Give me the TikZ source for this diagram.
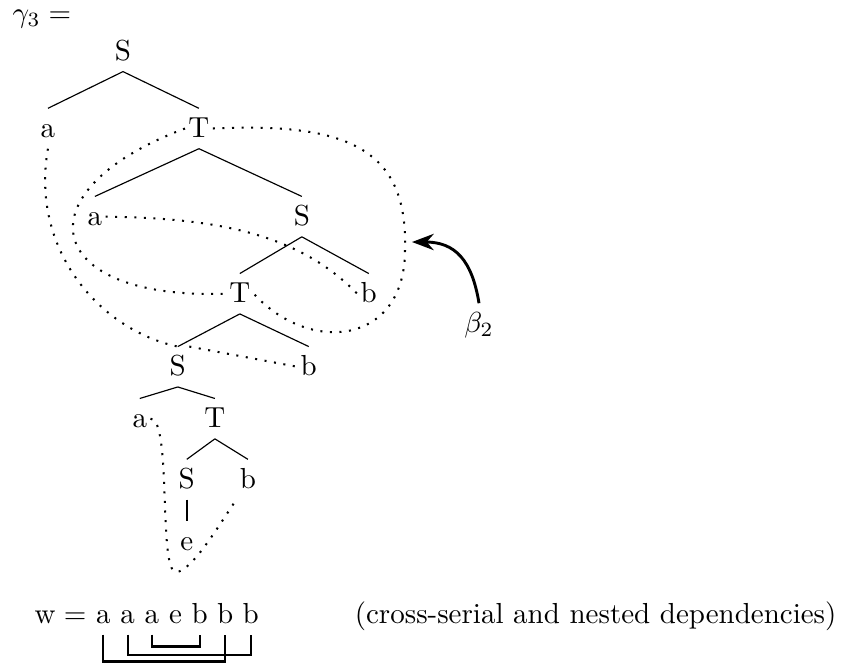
\documentclass[tikz,border=0pt]{standalone}
\usetikzlibrary{
  arrows.meta,
  positioning
}
\tikzset{
  lbl/.style={inner xsep=1pt, inner ysep=2.9pt, text height=6.83pt, text depth=0.9pt},
  link/.style={line width=0.7pt, dash pattern=on 0.7pt off 2.6pt},
  brk/.style={line width=0.75pt},
}

\begin{document}
\begin{tikzpicture}[x=0.345pt, y=-0.345pt, on grid]
      \useasboundingbox (0,0) rectangle (841,662);
      \node[anchor=base west, inner sep=0] (gam) at (12,22) {$\gamma_3 =$};

      \node[lbl] (s0) at (123,51.4) {S};
      \node[lbl] (a1) [below left = 26.6pt and 25.9pt of s0] {a};
      \node[lbl] (t1) [below right = 26.6pt and 26.2pt of s0] {T};
      \node[lbl] (a2) [below left = 30.4pt and 35.9pt of t1] {a};
      \node[lbl] (s1) [below right = 30.4pt and 35.5pt of t1] {S};
      \node[lbl] (t2) [below left = 26.6pt and 21.4pt of s1] {T};
      \node[lbl] (b1) [below right = 26.6pt and 23.1pt of s1] {b};
      \node[lbl] (s2) [below left = 25.2pt and 21.4pt of t2] {S};
      \node[lbl] (b2) [below right = 25.2pt and 23.8pt of t2] {b};
      \node[lbl] (a3) [below left = 17.9pt and 13.1pt of s2] {a};
      \node[lbl] (t3) [below right = 17.9pt and 12.8pt of s2] {T};
      \node[lbl] (s3) [below left = 21pt and 9.7pt of t3] {S};
      \node[lbl] (b3) [below right = 21pt and 11.4pt of t3] {b};
      \node[lbl] (e) [below = 21.4pt of s3] {e};

      \draw (s0.south) -- (a1.north);
      \draw (s0.south) -- (t1.north);
      \draw (t1.south) -- (a2.north);
      \draw (t1.south) -- (s1.north);
      \draw (s1.south) -- (t2.north);
      \draw (s1.south) -- (b1.north);
      \draw (t2.south) -- (s2.north);
      \draw (t2.south) -- (b2.north);
      \draw (s2.south) -- (a3.north);
      \draw (s2.south) -- (t3.north);
      \draw (t3.south) -- (s3.north);
      \draw (t3.south) -- (b3.north);
      \draw[thick] (s3.south) -- (e.north);

      \draw[link] (a1.south) .. controls (30,250) and (100,330) .. (s2.north);
      \draw[link] (s2.north east) -- (b2.west);
      \draw[link] (a2.east) .. controls (220,218) and (300,235) .. (b1.west);
      \draw[link] (a3.east) .. controls (172,418) and (158,572) .. (176,572)
        .. controls (192,572) and (222,520) .. (b3.south west);

      \draw[link] (t1.west) .. controls (20,190) and (40,300) .. (t2.west);
      \draw[link] (t1.east) .. controls (350,122) and (408,150) .. (405,250)
        .. controls (405,345) and (310,355) .. (t2.east);

      \node[lbl, anchor=base] (beta) at (479,332) {$\beta_2$};
      \coordinate (tip) at (412,242);
      \draw[line width=1pt, -{Stealth}] (beta.north) .. controls (472,260) and (455,242) .. (tip);

      \node[lbl] (w) at (45,614.4) {w};
      \node[lbl] (eq) [right = 10.4pt of w] {=};
      \node[lbl] (x1) [right = 9.7pt of eq] {a};
      \node[lbl] (x2) [right = 8.4pt of x1] {a};
      \node[lbl] (x3) [right = 8.4pt of x2] {a};
      \node[lbl] (x4) [right = 8.1pt of x3] {e};
      \node[lbl] (x5) [right = 8.4pt of x4] {b};
      \node[lbl] (x6) [right = 8.8pt of x5] {b};
      \node[lbl] (x7) [right = 8.8pt of x6] {b};

      \draw[brk] (x3.south) -- ++(0,-4.1pt) -| (x5.south);
      \draw[brk] (x2.south) -- ++(0,-6.9pt) -| (x7.south);
      \draw[brk] (x1.south) -- ++(0,-9.3pt) -| (x6.south);

      \node[anchor=base east, inner sep=0] (cap) at (837,623) {(cross-serial and nested dependencies)};
    \end{tikzpicture}
\end{document}
